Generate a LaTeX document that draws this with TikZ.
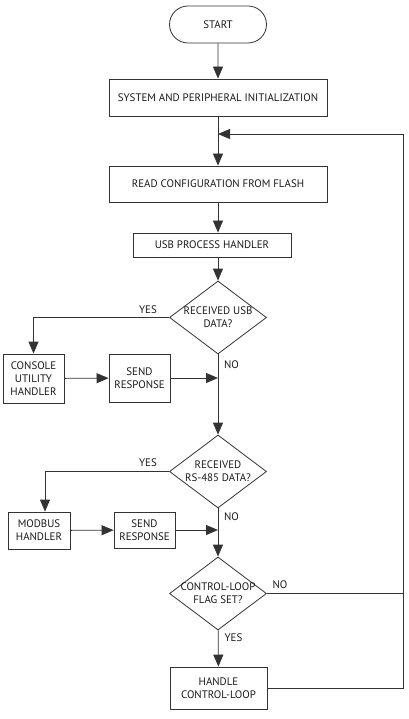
\documentclass[tikz,border=0pt]{standalone}
\usepackage{fontspec}
\setmainfont{PT Sans}
\usetikzlibrary{shapes.geometric, shapes.misc, arrows.meta}

\begin{document}
\begin{tikzpicture}[x=1pt, y=-1pt, line width=0.8pt,
    every node/.style={text=black!90, font=\fontsize{10.9}{12.8}\selectfont},
    flowline/.style={draw=black!80, line width=0.8pt},
    flowarrow/.style={flowline, -{Triangle[length=12pt, width=10pt]}},
    process/.style={draw=black!80, rectangle, inner sep=0pt, align=center},
    decision/.style={draw=black!80, diamond, aspect=1.33, inner xsep=-12pt, inner ysep=-4pt,
        minimum width=97pt, minimum height=73pt, align=center},
    terminal/.style={draw=black!80, rounded rectangle, inner sep=0pt},
    tag/.style={inner sep=1pt}]
    \useasboundingbox (0,0) rectangle (408,719);

    % draw main column
    \node[terminal, minimum width=97pt, minimum height=37pt] (start) at (218,24.5) {START};
    \node[process, minimum width=218pt, minimum height=37pt] (init) at (218,97.5) {SYSTEM AND PERIPHERAL INITIALIZATION};
    \node[process, minimum width=218pt, minimum height=36pt] (readcfg) at (218,184) {READ CONFIGURATION FROM FLASH};
    \node[process, minimum width=158pt, minimum height=24pt] (usbproc) at (212,245) {USB PROCESS HANDLER};
    \node[decision] (usbdata) at (218,317.5) {RECEIVED USB\\DATA?};
    \node[decision] (rsdata) at (218,471.5) {RECEIVED\\RS-485 DATA?};
    \node[decision] (ctrlflag) at (218,593.5) {CONTROL-LOOP\\FLAG SET?};
    \node[process, minimum width=97pt, minimum height=42pt] (ctrlloop) at (218.5,688) {HANDLE\\CONTROL-LOOP};

    % draw side branches
    \node[process, minimum width=61pt, minimum height=49pt] (console) at (33.5,378.5) {CONSOLE\\UTILITY\\HANDLER};
    \node[process, minimum width=61pt, minimum height=48pt] (usbsend) at (139.5,378) {SEND\\RESPONSE};
    \node[process, minimum width=62pt, minimum height=37pt] (modbus) at (39,530.5) {MODBUS\\HANDLER};
    \node[process, minimum width=61pt, minimum height=36pt] (rssend) at (144.5,530) {SEND\\RESPONSE};

    % draw branch labels
    \node[tag] (usbyes) at (148,310) {YES};
    \node[tag] (usbno) at (231.5,365) {NO};
    \node[tag] (rsyes) at (148,463) {YES};
    \node[tag] (rsno) at (231.5,517) {NO};
    \node[tag] (flagno) at (280,585) {NO};
    \node[tag] (flagyes) at (233.5,638) {YES};

    % join and loop points
    \coordinate (usbjoin) at (usbdata.south |- usbsend.east);
    \coordinate (rsjoin) at (rsdata.south |- rssend.east);
    \coordinate (loopin) at (218,134);
    \coordinate (loopcorner) at (403,134);

    % draw connectors
    \draw[flowarrow] (start) -- (init);
    \draw[flowarrow] (init) -- (readcfg);
    \draw[flowarrow] (readcfg.south) -- (readcfg.south |- usbproc.north);
    \draw[flowarrow] (readcfg.south |- usbproc.south) -- (usbdata.north);
    \draw[flowarrow] (usbdata.west) -| (console.north);
    \draw[flowarrow] (console) -- (usbsend);
    \draw[flowarrow] (usbsend) -- (usbjoin);
    \draw[flowarrow] (usbdata) -- (rsdata);
    \draw[flowarrow] (rsdata.west) -| ([xshift=6pt]modbus.north);
    \draw[flowarrow] (modbus) -- (rssend);
    \draw[flowarrow] (rssend) -- (rsjoin);
    \draw[flowarrow] (rsdata) -- (ctrlflag);
    \draw[flowarrow] (ctrlflag) -- (ctrlloop);

    % draw loop back
    \draw[flowline] (ctrlflag.east) -- (ctrlflag.east -| loopcorner);
    \draw[flowarrow] (ctrlloop.east) -| (loopcorner) -- (loopin);
\end{tikzpicture}
\end{document}
